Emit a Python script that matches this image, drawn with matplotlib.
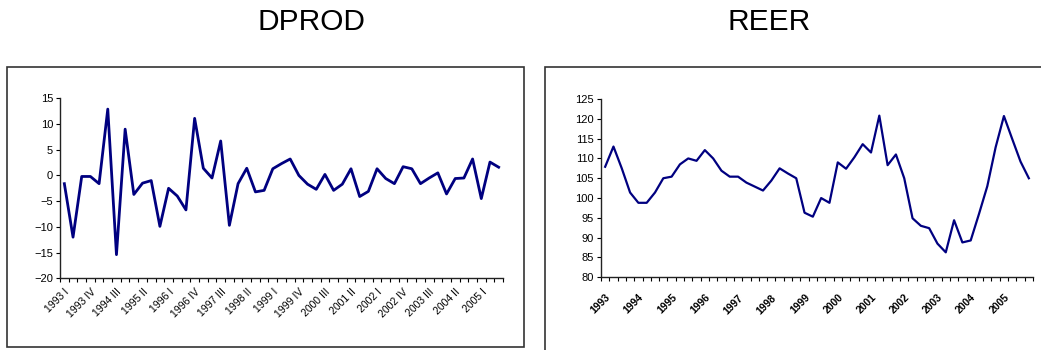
import numpy as np
import matplotlib.pyplot as plt
from matplotlib.patches import Rectangle

plt.rcParams["font.family"] = ["Liberation Sans", "DejaVu Sans"]

# quarterly data, 1993 I onwards
dprod = [-1.6, -12.0, -0.2, -0.2, -1.6, 12.9, -15.4, 9.0, -3.7, -1.5,
         -1.0, -9.9, -2.5, -4.0, -6.7, 11.1, 1.4, -0.5, 6.7, -9.7,
         -1.6, 1.4, -3.2, -2.9, 1.3, 2.3, 3.2, 0.0, -1.7, -2.7,
         0.2, -2.9, -1.7, 1.3, -4.1, -3.1, 1.3, -0.6, -1.6, 1.7,
         1.3, -1.6, -0.5, 0.5, -3.6, -0.6, -0.5, 3.2, -4.5, 2.6, 1.6]

reer = [107.9, 113.0, 107.5, 101.4, 98.8, 98.8, 101.4, 105.0, 105.4, 108.5,
        110.0, 109.4, 112.1, 110.0, 106.9, 105.4, 105.4, 103.9, 102.9, 101.9,
        104.4, 107.5, 106.2, 105.0, 96.3, 95.3, 100.0, 98.8, 109.0, 107.4,
        110.3, 113.6, 111.5, 120.8, 108.3, 111.0, 105.0, 94.9, 93.0, 92.4,
        88.5, 86.3, 94.4, 88.8, 89.3, 96.0, 103.0, 112.8, 120.7, 114.9,
        109.2, 105.0]

roman = ["I", "II", "III", "IV"]
quarters = [f"{1993 + i // 4} {roman[i % 4]}" for i in range(52)]
years = [str(1993 + i // 4) for i in range(52)]

W, H = 1041, 350
fig = plt.figure(figsize=(W / 100, H / 100), dpi=100)

# outer frames
fig.add_artist(Rectangle((7 / W, 1 - 347 / H), 517 / W, 280 / H,
                         transform=fig.transFigure, fill=False,
                         edgecolor="#333333", linewidth=1.2))
fig.add_artist(Rectangle((545 / W, -0.1), 0.6, 1 - 67 / H + 0.1,
                         transform=fig.transFigure, fill=False,
                         edgecolor="#333333", linewidth=1.2))

fig.text(311 / W, 1 - 22 / H, "DPROD", ha="center", va="center", fontsize=21.5)
fig.text(769 / W, 1 - 22 / H, "REER", ha="center", va="center", fontsize=21.5)


def setup(ax, n, step, labels, lab_kw, pad):
    ax.set_xlim(-0.5, n - 0.5)
    for s in ["top", "right"]:
        ax.spines[s].set_visible(False)
    for s in ["left", "bottom"]:
        ax.spines[s].set_color("#222222")
        ax.spines[s].set_linewidth(1.0)
    ax.set_xticks(np.arange(n + 1) - 0.5)
    ax.set_xticklabels([])
    ax.tick_params(axis="x", which="major", length=3, width=0.8, direction="out")
    ax.tick_params(axis="y", length=3, width=0.8, labelsize=8, pad=2)
    pos = np.arange(0, n, step)
    ax.set_xticks(pos, minor=True)
    ax.set_xticklabels([labels[i] for i in pos], minor=True, rotation=45,
                       ha="right", rotation_mode="anchor", **lab_kw)
    ax.tick_params(axis="x", which="minor", length=0, pad=pad)


ax1 = fig.add_axes([60 / W, 1 - 278.3 / H, 443 / W, 180 / H])
ax1.plot(np.arange(len(dprod)), dprod, color="#000080", linewidth=2.0)
ax1.set_ylim(-20, 15)
ax1.set_yticks(np.arange(-20, 16, 5))
setup(ax1, len(dprod), 3, quarters, dict(fontsize=7.5), 6)

ax2 = fig.add_axes([601 / W, 1 - 277.3 / H, 432 / W, 178.3 / H])
ax2.plot(np.arange(len(reer)), reer, color="#000080", linewidth=1.6)
ax2.set_ylim(80, 125)
ax2.set_yticks(np.arange(80, 126, 5))
setup(ax2, len(reer), 4, years, dict(fontsize=7.5, fontweight="bold"), 11)

fig.savefig("out.png", dpi=100)
